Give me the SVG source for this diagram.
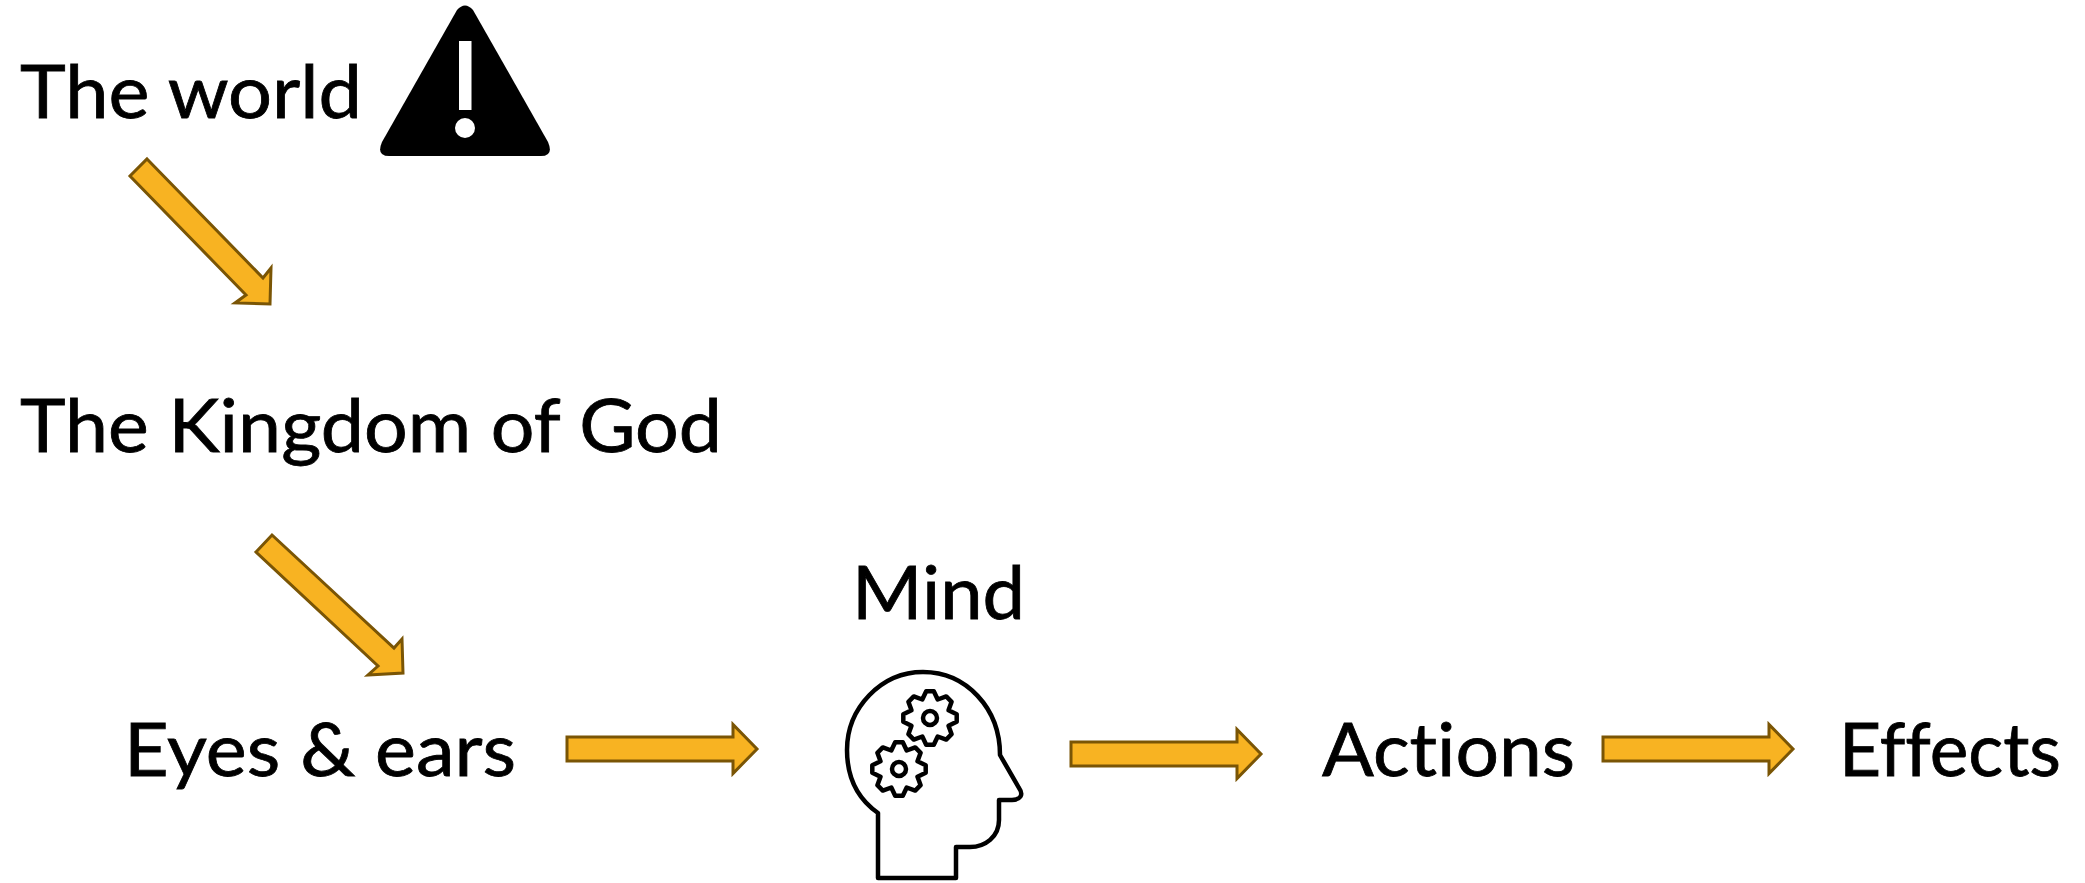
<svg xmlns="http://www.w3.org/2000/svg" width="2085" height="883" viewBox="0 0 2085 883">
<style>
.t{font-family:"Lato","Carlito","Liberation Sans",sans-serif;font-size:73px;fill:#000;stroke:#000;stroke-width:.8;font-variant-ligatures:none}
.a{fill:#f8b322;stroke:#7a5505;stroke-width:3}
.h{fill:none;stroke:#000;stroke-width:4.5;stroke-linejoin:round}
</style>
<defs>
<path id="ar" class="a" d="M0,-12 H166 V-24.500 L190,0 L166,24.500 V12 H0 Z"/>
<g id="gear"><path class="h" d="M-3.800,-26.700 L3.800,-26.700 L7.700,-18.500 L16.200,-21.600 L21.600,-16.200 L18.500,-7.700 L26.700,-3.800 L26.700,3.800 L18.500,7.700 L21.600,16.200 L16.200,21.600 L7.700,18.500 L3.800,26.700 L-3.800,26.700 L-7.700,18.500 L-16.200,21.600 L-21.600,16.200 L-18.500,7.700 L-26.700,3.800 L-26.700,-3.800 L-18.500,-7.700 L-21.600,-16.200 L-16.200,-21.600 L-7.700,-18.500 Z"/><circle class="h" r="7"/></g>
</defs>
<rect width="2085" height="883" fill="#fff"/>
<g id="world"><text class="t" x="20" y="118" textLength="342" lengthAdjust="spacingAndGlyphs">The world</text></g>
<g id="warning"><path d="M457,10 Q465,1 473,10 L548,142 Q554,156 541,156 H389 Q376,156 382,142 Z" fill="#000"/><rect x="459" y="41" width="12.500" height="69" fill="#fff"/><circle cx="465" cy="128" r="10" fill="#fff"/></g>
<g id="kingdom"><text class="t" x="20" y="452" textLength="702" lengthAdjust="spacingAndGlyphs">The Kingdom of God</text></g>
<g id="eyes"><text class="t" x="124" y="776" textLength="392" lengthAdjust="spacingAndGlyphs">Eyes &amp; ears</text></g>
<g id="mind"><text class="t" x="852" y="619" textLength="173" lengthAdjust="spacingAndGlyphs">Mind</text>
<path class="h" d="M878,878 V813 C858,799 847,778 847,750 C847,708 881,672 923,672 C966,672 1000,708 1000,755 L1019,788 C1024,795 1020,800 1012,800 H999 V820 C999,837 985,847 970,847 H956 V878 Z"/>
<use href="#gear" transform="translate(930,718)"/>
<use href="#gear" transform="translate(899,769)"/></g>
<g id="actions"><text class="t" x="1322" y="776" textLength="253" lengthAdjust="spacingAndGlyphs">Actions</text></g>
<g id="effects"><text class="t" x="1839" y="776" textLength="222" lengthAdjust="spacingAndGlyphs">Effects</text></g>
<g id="connectors">
<path class="a" d="M147,159 L263,278 L271,268 L270,304 L235,303 L246,295 L130,176 Z"/>
<path class="a" d="M272,535 L394,648 L402,639 L403,673 L368,675 L378,666 L256,552 Z"/>
<use href="#ar" transform="translate(567,749)"/>
<use href="#ar" transform="translate(1071,754)"/>
<use href="#ar" transform="translate(1603,749)"/>
</g>
</svg>
